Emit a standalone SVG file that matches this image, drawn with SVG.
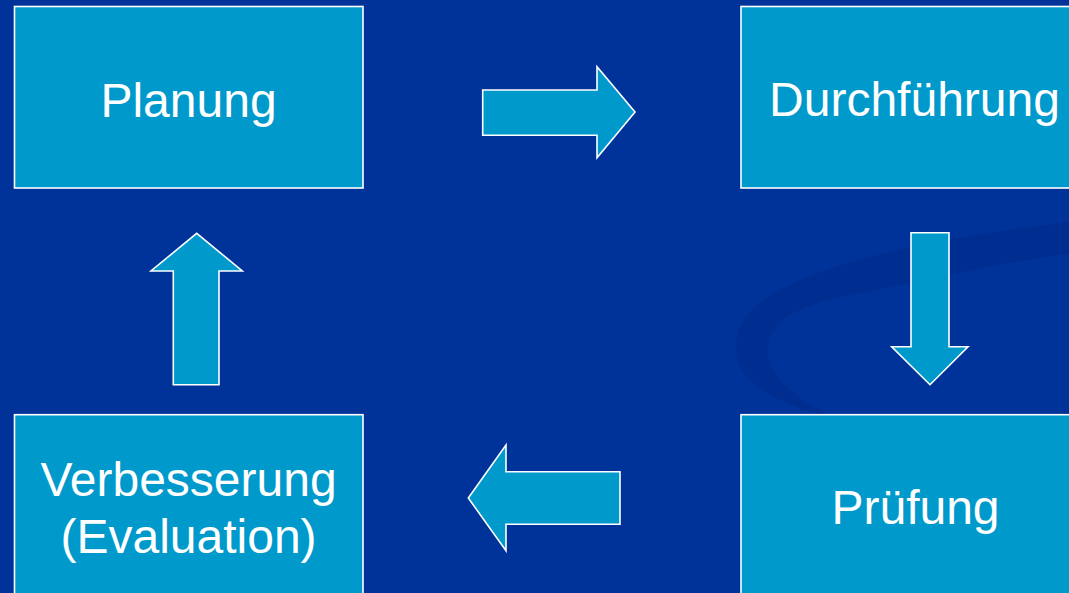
<svg xmlns="http://www.w3.org/2000/svg" width="1069" height="593" viewBox="0 0 1069 593">
<style>
.box{fill:#0099CC;stroke:#FFFFFF;stroke-width:1.6}
.arr{fill:#0099CC;stroke:#FFFFFF;stroke-width:1.6;stroke-linejoin:miter}
.lbl{font-family:"Liberation Sans",Arial,sans-serif;font-size:48px;fill:#FFFFFF;text-anchor:middle}
</style>
<rect x="0" y="0" width="1069" height="593" fill="#003399"/>
<path d="M1069,222 C960,235 850,255 790,285 C735,310 725,345 745,375 C765,398 800,410 830,416 C800,400 770,380 768,352 C768,320 800,305 850,295 C920,282 1000,262 1069,254 Z" fill="#002C8C" opacity="0.7"/>
<g id="planung">
<rect class="box" x="14.5" y="6.5" width="348.5" height="181.5"/>
<text class="lbl" x="188.5" y="116.5">Planung</text>
</g>
<g id="durchfuehrung">
<rect class="box" x="741" y="6.5" width="349" height="181.5"/>
<text class="lbl" x="914.5" y="116">Durchführung</text>
</g>
<g id="pruefung">
<rect class="box" x="741" y="414.7" width="349" height="182"/>
<text class="lbl" x="915.5" y="524">Prüfung</text>
</g>
<g id="verbesserung">
<rect class="box" x="14.5" y="414.7" width="348.5" height="182"/>
<text class="lbl" x="188.5" y="495.7">Verbesserung</text>
<text class="lbl" x="188.5" y="553.3">(Evaluation)</text>
</g>
<g id="connectors">
<polygon class="arr" points="482.7,90 597,90 597,66.7 635,112 597,157.7 597,135.3 482.7,135.3"/>
<polygon class="arr" points="911,232.7 949,232.7 949,346.7 968,346.7 930,384.7 891.7,346.7 911,346.7"/>
<polygon class="arr" points="620,471.7 506,471.7 506,445 468.3,498 506,550.7 506,524.3 620,524.3"/>
<polygon class="arr" points="173.3,384.7 219,384.7 219,271 242.3,271 196.7,233.3 151,271 173.3,271"/>
</g>
</svg>
